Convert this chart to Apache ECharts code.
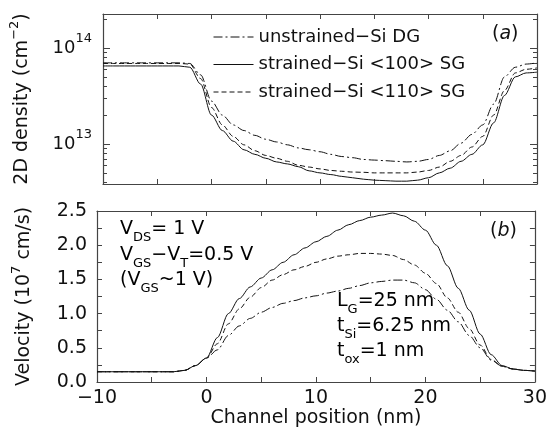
<!DOCTYPE html>
<html>
<head>
<meta charset="utf-8">
<title>Carrier density and velocity along the channel</title>
<script src="https://cdn.jsdelivr.net/npm/echarts@6.0.0/dist/echarts.min.js"></script>
<style>
  html, body { margin: 0; padding: 0; background: #fff; }
  #chart { width: 550px; height: 439px; }
</style>
</head>
<body>
<div id="chart"></div>
<script>
// channel position (nm), shared by all curves
var position = [-10, -9, -8, -7, -6, -5, -4, -3, -2, -1, 0, 1, 2, 3, 4, 5, 6, 7, 8, 9, 10,
  11, 12, 13, 14, 15, 16, 17, 18, 19, 20, 21, 22, 23, 24, 25, 26, 27, 28, 29, 30];

var names = ['unstrained\u2212Si DG', 'strained\u2212Si <100> SG', 'strained\u2212Si <110> SG'];

// (a) 2D density, cm^-2
var densityDG = [7.0e13, 7.0e13, 7.0e13, 7.0e13, 7.0e13, 7.0e13, 7.0e13, 7.0e13, 6.9e13, 5.25e13,
  2.8e13, 2.0e13, 1.58e13, 1.38e13, 1.23e13, 1.12e13, 1.05e13, 9.8e12, 9.1e12, 8.7e12, 8.3e12,
  7.8e12, 7.4e12, 7.2e12, 6.9e12, 6.8e12, 6.7e12, 6.6e12, 6.5e12, 6.6e12, 6.9e12,
  7.6e12, 8.5e12, 1.02e13, 1.26e13, 1.58e13, 2.6e13, 5.0e13, 6.3e13, 6.8e13, 7.0e13];
var density100 = [6.5e13, 6.5e13, 6.5e13, 6.5e13, 6.5e13, 6.5e13, 6.5e13, 6.5e13, 6.3e13, 4.2e13,
  2.0e13, 1.38e13, 1.07e13, 8.7e12, 7.8e12, 7.1e12, 6.5e12, 6.2e12, 5.8e12, 5.25e12, 5.0e12,
  4.8e12, 4.6e12, 4.45e12, 4.3e12, 4.2e12, 4.15e12, 4.1e12, 4.1e12, 4.2e12, 4.45e12,
  5.0e12, 5.6e12, 6.6e12, 7.8e12, 9.8e12, 1.66e13, 3.2e13, 5.0e13, 5.5e13, 5.6e13];
var density110 = [6.9e13, 6.9e13, 6.9e13, 6.9e13, 6.9e13, 6.9e13, 6.9e13, 6.9e13, 6.8e13, 4.8e13,
  2.4e13, 1.58e13, 1.2e13, 9.8e12, 8.5e12, 7.6e12, 7.1e12, 6.6e12, 6.0e12, 5.75e12, 5.5e12,
  5.3e12, 5.2e12, 5.1e12, 5.07e12, 5.0e12, 5.0e12, 5.0e12, 5.0e12, 5.1e12, 5.3e12,
  5.75e12, 6.6e12, 7.6e12, 9.3e12, 1.2e13, 2.0e13, 3.6e13, 5.5e13, 6.0e13, 6.2e13];

// (b) velocity, 10^7 cm/s
var velocityDG = [0.15, 0.15, 0.15, 0.15, 0.15, 0.15, 0.15, 0.15, 0.17, 0.24,
  0.35, 0.47, 0.68, 0.82, 0.93, 1.02, 1.09, 1.15, 1.19, 1.23, 1.26,
  1.30, 1.33, 1.37, 1.41, 1.45, 1.47, 1.49, 1.49, 1.45, 1.35,
  1.21, 1.05, 0.88, 0.68, 0.50, 0.32, 0.23, 0.19, 0.17, 0.16];
var velocity100 = [0.15, 0.15, 0.15, 0.15, 0.15, 0.15, 0.15, 0.15, 0.17, 0.24,
  0.35, 0.65, 1.00, 1.22, 1.39, 1.52, 1.64, 1.75, 1.86, 1.96, 2.05,
  2.13, 2.22, 2.30, 2.36, 2.41, 2.44, 2.47, 2.43, 2.35, 2.22,
  2.00, 1.70, 1.37, 1.05, 0.70, 0.40, 0.24, 0.19, 0.17, 0.16];
var velocity110 = [0.15, 0.15, 0.15, 0.15, 0.15, 0.15, 0.15, 0.15, 0.17, 0.24,
  0.35, 0.56, 0.85, 1.07, 1.24, 1.38, 1.49, 1.57, 1.64, 1.69, 1.75,
  1.80, 1.84, 1.86, 1.88, 1.88, 1.87, 1.85, 1.79, 1.71, 1.59,
  1.44, 1.23, 1.02, 0.78, 0.54, 0.33, 0.23, 0.19, 0.17, 0.16];

// tick positions on the log axis
var densityMajorTicks = [1e13, 1e14];
var densityMinorTicks = [4e12, 5e12, 6e12, 7e12, 8e12, 9e12,
  2e13, 3e13, 4e13, 5e13, 6e13, 7e13, 8e13, 9e13, 2e14];

var FONT = 'DejaVu Sans';
var INK = '#111';
var AXIS = '#444';

function pairs(ys) {
  return position.map(function (x, i) { return [x, ys[i]]; });
}

function xAxis(grid, pos, labels, name) {
  return {
    type: 'value', gridIndex: grid, position: pos,
    min: -10, max: 30, interval: 5,
    axisLine: { show: true, onZero: false, lineStyle: { color: AXIS, width: 1.2 } },
    axisTick: { show: true, inside: true, length: 5, lineStyle: { color: AXIS } },
    splitLine: { show: false },
    axisLabel: {
      show: labels, margin: 7, color: INK, fontSize: 19, fontFamily: FONT,
      formatter: function (v) { return v % 10 === 0 ? String(v).replace('-', '\u2212') : ''; }
    },
    name: name || '', nameLocation: 'middle', nameGap: 23,
    nameTextStyle: { color: INK, fontSize: 19, fontFamily: FONT }
  };
}

function logAxis(pos, ticks, len, line, labels) {
  var ax = {
    type: 'log', logBase: 10, gridIndex: 0, position: pos,
    min: 3.83e12, max: 2.26e14,
    axisLine: { show: line, onZero: false, lineStyle: { color: AXIS, width: 1.2 } },
    axisTick: { show: true, inside: true, length: len, customValues: ticks, lineStyle: { color: AXIS } },
    splitLine: { show: false },
    axisLabel: { show: false }
  };
  if (labels) {
    ax.axisLabel = {
      show: true, margin: 11, customValues: densityMajorTicks,
      formatter: function (v) { return '{b|10}{e|' + Math.round(Math.log10(v)) + '}'; },
      rich: {
        b: { fontSize: 18, fontFamily: FONT, color: INK },
        e: { fontSize: 13, fontFamily: FONT, color: INK, padding: [0, 0, 18, 0] }
      }
    };
    ax.name = '2D density (cm{sup|\u22122})';
    ax.nameLocation = 'middle';
    ax.nameGap = 66;
    ax.nameTextStyle = {
      color: INK, fontSize: 19, fontFamily: FONT,
      rich: { sup: { fontSize: 13, fontFamily: FONT, color: INK, padding: [0, 0, 16, 0] } }
    };
  }
  return ax;
}

function velAxis(pos, labels) {
  var ax = {
    type: 'value', gridIndex: 1, position: pos,
    min: 0, max: 2.5, interval: 0.25,
    axisLine: { show: true, onZero: false, lineStyle: { color: AXIS, width: 1.2 } },
    axisTick: { show: true, inside: true, length: 5, lineStyle: { color: AXIS } },
    splitLine: { show: false },
    axisLabel: {
      show: labels, margin: 10, color: INK, fontSize: 19, fontFamily: FONT,
      formatter: function (v) { return Math.round(v * 100) % 50 === 0 ? v.toFixed(1) : ''; }
    }
  };
  if (labels) {
    ax.name = 'Velocity (10{sup|7} cm/s)';
    ax.nameLocation = 'middle';
    ax.nameGap = 58;
    ax.nameTextStyle = {
      color: INK, fontSize: 19, fontFamily: FONT,
      rich: { sup: { fontSize: 13, fontFamily: FONT, color: INK, padding: [0, 0, 16, 0] } }
    };
  }
  return ax;
}

var styles = [
  { type: [9, 3, 2, 3] },  // dash-dot
  { type: 'solid' },
  { type: [5, 3] }         // dashed
];

function line(k, ys, xi, yi) {
  return {
    name: names[k], type: 'line', xAxisIndex: xi, yAxisIndex: yi,
    data: pairs(ys), symbol: 'none', showSymbol: false,
    smooth: 0.3, smoothMonotone: 'x',
    itemStyle: { color: INK },
    lineStyle: { color: INK, width: 1, type: styles[k].type }
  };
}

var n = { fontSize: 19, fontFamily: FONT, color: INK };
var sub = { fontSize: 13, fontFamily: FONT, color: INK, padding: [16, 0, 0, 0] };
var txtRich = { n: n, s: sub };

function note(x, y, text) {
  return { type: 'text', left: x, top: y, style: { text: text, rich: txtRich } };
}

var option = {
  animation: false,
  textStyle: { fontFamily: FONT },
  grid: [
    { left: 97, top: 14, width: 440, height: 170 },
    { left: 97, top: 211, width: 440, height: 171 }
  ],
  legend: {
    orient: 'vertical', left: 208, top: 23, itemWidth: 40, itemHeight: 12, itemGap: 9.5,
    selectedMode: false,
    itemStyle: { opacity: 0 },
    lineStyle: { width: 1 },
    textStyle: { color: INK, fontSize: 18, fontFamily: FONT },
    data: names
  },
  xAxis: [
    xAxis(0, 'bottom', false),
    xAxis(0, 'top', false),
    xAxis(1, 'bottom', true, 'Channel position (nm)'),
    xAxis(1, 'top', false)
  ],
  yAxis: [
    logAxis('left', densityMajorTicks, 7, true, true),
    logAxis('left', densityMinorTicks, 4, false, false),
    logAxis('right', densityMajorTicks, 7, true, false),
    logAxis('right', densityMinorTicks, 4, false, false),
    velAxis('left', true),
    velAxis('right', false)
  ],
  series: [
    line(0, densityDG, 0, 0),
    line(1, density100, 0, 0),
    line(2, density110, 0, 0),
    line(0, velocityDG, 2, 4),
    line(1, velocity100, 2, 4),
    line(2, velocity110, 2, 4)
  ],
  graphic: [
    { type: 'text', left: 492, top: 25, style: {
      text: '({i|a})',
      rich: { i: { fontSize: 19, fontFamily: FONT, fontStyle: 'italic', color: INK } },
      fontSize: 19, fontFamily: FONT, fill: INK } },
    { type: 'text', left: 490, top: 222, style: {
      text: '({i|b})',
      rich: { i: { fontSize: 19, fontFamily: FONT, fontStyle: 'italic', color: INK } },
      fontSize: 19, fontFamily: FONT, fill: INK } },
    note(120, 220, '{n|V}{s|DS}{n|= 1 V}'),
    note(120, 246, '{n|V}{s|GS}{n|\u2212V}{s|T}{n|=0.5 V}'),
    note(120, 271, '{n|(V}{s|GS}{n|~1 V)}'),
    note(337, 292, '{n|L}{s|G}{n|=25 nm}'),
    note(337, 317, '{n|t}{s|Si}{n|=6.25 nm}'),
    note(337, 342, '{n|t}{s|ox}{n|=1 nm}')
  ]
};

var chart = echarts.init(document.getElementById('chart'), null, { renderer: 'canvas' });
chart.setOption(option);
</script>
</body>
</html>
